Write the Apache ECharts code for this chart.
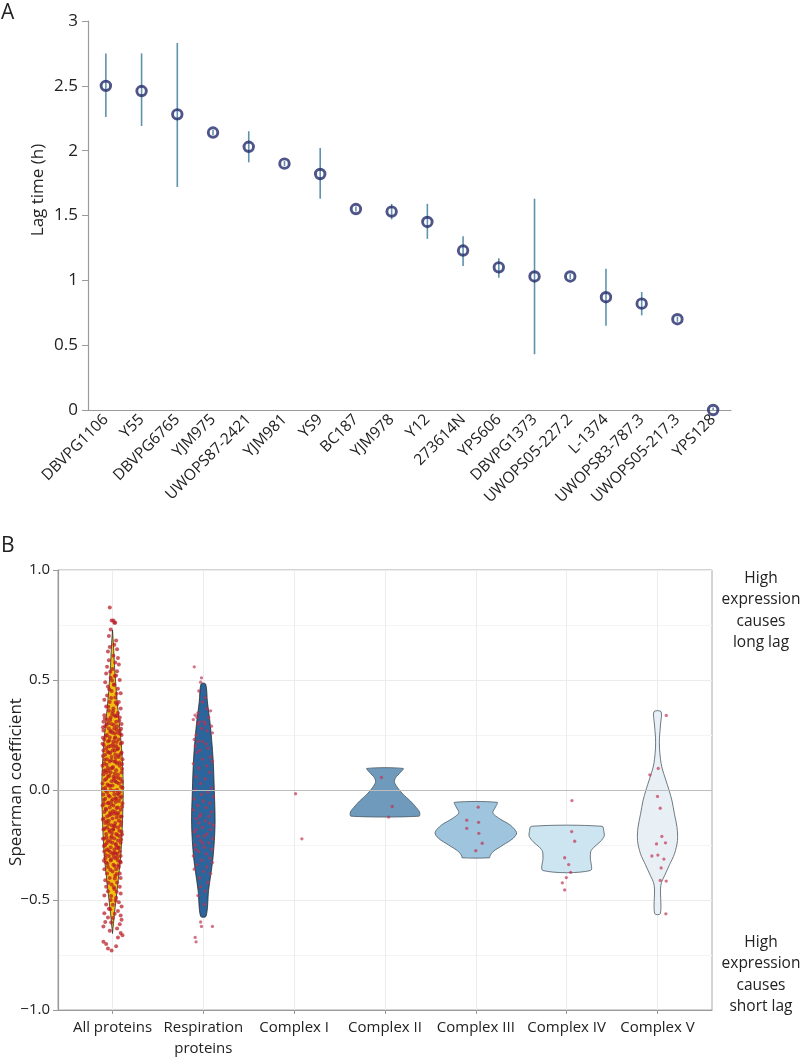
<!DOCTYPE html>
<html>
<head>
<meta charset="utf-8">
<script src="https://cdn.jsdelivr.net/npm/echarts@6/dist/echarts.min.js"></script>
<style>
  html, body { margin: 0; background: #fff; }
  #chart { width: 800px; height: 1059px; }
</style>
</head>
<body>
<div id="chart"></div>
<script>
// ---- panel A: lag time per strain ----
const strains = ["DBVPG1106", "Y55", "DBVPG6765", "YJM975", "UWOPS87-2421", "YJM981", "YS9", "BC187", "YJM978",
  "Y12", "273614N", "YPS606", "DBVPG1373", "UWOPS05-227.2", "L-1374", "UWOPS83-787.3", "UWOPS05-217.3", "YPS128"];
const lagTime = [2.50, 2.46, 2.28, 2.14, 2.03, 1.90, 1.82, 1.55, 1.53, 1.45, 1.23, 1.10, 1.03, 1.03, 0.87, 0.82, 0.70, 0.00];
const lagLow  = [2.26, 2.19, 1.72, 2.12, 1.91, 1.88, 1.63, 1.53, 1.47, 1.32, 1.11, 1.02, 0.43, 1.01, 0.65, 0.73, 0.68, 0.00];
const lagHigh = [2.75, 2.75, 2.83, 2.16, 2.15, 1.92, 2.02, 1.57, 1.59, 1.59, 1.34, 1.17, 1.63, 1.05, 1.09, 0.91, 0.72, 0.02];

// ---- panel B: spearman coefficients ----
const groups = ["All proteins", "Respiration\nproteins", "Complex I", "Complex II", "Complex III", "Complex IV", "Complex V"];

// violin outlines: [coefficient, half width]
const violinGroup = [0, 1, 3, 4, 5, 6];
const allProf = [[0.727, 0], [0.65, 0.012], [0.565, 0.022], [0.41, 0.05], [0.19, 0.1], [0.02, 0.118], [-0.14, 0.11],
  [-0.29, 0.092], [-0.44, 0.055], [-0.56, 0.022], [-0.652, 0]];
const respProf = [[0.482, 0.025], [0.40, 0.045], [0.294, 0.077], [0.144, 0.107], [-0.006, 0.121], [-0.156, 0.129],
  [-0.306, 0.107], [-0.456, 0.058], [-0.574, 0.03]];
const c2Prof = [[0.098, 0.2], [0.08, 0.17], [0.055, 0.115], [0.035, 0.105], [0.01, 0.14], [-0.02, 0.2], [-0.05, 0.28],
  [-0.08, 0.345], [-0.1, 0.38], [-0.119, 0.375]];
const c3Prof = [[-0.056, 0.235], [-0.075, 0.22], [-0.104, 0.187], [-0.13, 0.26], [-0.16, 0.38], [-0.194, 0.449],
  [-0.22, 0.41], [-0.25, 0.3], [-0.28, 0.19], [-0.3, 0.155], [-0.308, 0.152]];
const c4Prof = [[-0.165, 0.39], [-0.19, 0.41], [-0.21, 0.413], [-0.235, 0.37], [-0.26, 0.3], [-0.28, 0.265],
  [-0.31, 0.261], [-0.366, 0.261]];
const c5Prof = [[0.356, 0.039], [0.3, 0.034], [0.24, 0.022], [0.19, 0.022], [0.14, 0.033], [0.1, 0.05], [0.05, 0.088],
  [0.0, 0.127], [-0.05, 0.16], [-0.11, 0.187], [-0.17, 0.215], [-0.23, 0.22], [-0.29, 0.187], [-0.34, 0.132],
  [-0.39, 0.077], [-0.42, 0.044], [-0.45, 0.033], [-0.562, 0.031]];
const violinProfiles = [allProf, respProf, c2Prof, c3Prof, c4Prof, c5Prof];
const violinColors = ["#f2c10f", "#2c649c", "#6f9abb", "#9fc5de", "#cde4f1", "#e9f0f5"];

// points: [coefficient, jitter]
const allPts = [
  [0.83,-0.03],[0.77,-0.01],[0.77,0.01],[0.76,0.02],[0.76,0.03],[0.73,-0.02],[0.70,-0.04],[0.68,0.04],[0.66,0.02],[0.65,-0.03],
  [0.64,0.05],[0.63,-0.05],[0.61,0.01],[0.60,0.06],[0.59,-0.04],[0.58,0.03],[0.57,0.07],[0.56,-0.06],[0.55,0.00],[0.54,0.05],
  [0.53,-0.07],[0.52,0.04],[0.51,-0.02],[0.50,0.08],[0.49,-0.08],[0.48,0.02],[0.47,-0.05],[0.46,0.06],[0.45,-0.01],[0.44,0.09],
  [0.43,-0.06],[0.42,0.03],[0.41,-0.09],[0.40,0.07],[0.40,-0.03],[0.39,0.05],[0.38,-0.07],[0.37,0.01],[0.37,0.09],[0.36,-0.04],
  [0.35,0.06],[0.34,-0.09],[0.34,0.02],[0.33,-0.02],[0.33,0.08],[0.32,-0.06],[0.31,0.04],[0.31,-0.10],[0.30,0.10],[0.30,-0.01],
  [0.29,0.05],[0.29,-0.08],[0.28,0.02],[0.28,-0.04],[0.27,0.08],[0.27,-0.10],[0.26,0.00],[0.26,0.06],[0.25,-0.06],[0.25,0.10],
  [0.24,0.03],[0.24,-0.03],[0.23,-0.09],[0.23,0.07],[0.22,0.01],[0.22,-0.05],[0.21,0.09],[0.21,-0.11],[0.20,0.04],[0.20,-0.02],
  [0.19,-0.07],[0.19,0.06],[0.18,0.00],[0.18,-0.10],[0.17,0.10],[0.17,-0.04],[0.16,0.03],[0.16,-0.08],[0.15,0.07],[0.15,-0.01],
  [0.14,-0.06],[0.14,0.11],[0.13,0.02],[0.13,-0.03],[0.12,-0.09],[0.12,0.05],[0.11,0.08],[0.11,-0.11],[0.10,0.00],[0.10,-0.05],
  [0.09,0.04],[0.09,-0.08],[0.08,0.10],[0.08,-0.02],[0.07,0.06],[0.07,-0.10],[0.06,0.01],[0.06,-0.05],[0.05,0.09],[0.05,-0.07],
  [0.04,0.03],[0.04,-0.01],[0.03,-0.11],[0.03,0.07],[0.02,0.00],[0.02,-0.04],[0.01,0.11],[0.01,-0.08],[0.00,0.05],[0.00,-0.02],
  [-0.01,-0.06],[-0.01,0.08],[-0.02,0.02],[-0.02,-0.10],[-0.03,0.10],[-0.03,-0.03],[-0.04,0.04],[-0.04,-0.08],[-0.05,0.07],[-0.05,-0.01],
  [-0.06,-0.05],[-0.06,0.11],[-0.07,0.01],[-0.07,-0.11],[-0.08,0.06],[-0.08,-0.03],[-0.09,-0.07],[-0.09,0.09],[-0.10,0.03],[-0.10,-0.09],
  [-0.11,0.05],[-0.11,-0.02],[-0.12,0.10],[-0.12,-0.06],[-0.13,0.00],[-0.13,-0.10],[-0.14,0.07],[-0.14,-0.04],[-0.15,0.03],[-0.15,-0.08],
  [-0.16,0.09],[-0.16,-0.01],[-0.17,-0.06],[-0.17,0.06],[-0.18,0.01],[-0.18,-0.10],[-0.19,0.10],[-0.19,-0.03],[-0.20,0.04],[-0.20,-0.07],
  [-0.21,0.08],[-0.21,-0.01],[-0.22,-0.09],[-0.22,0.02],[-0.23,0.06],[-0.23,-0.05],[-0.24,0.09],[-0.24,0.00],[-0.25,-0.08],[-0.25,0.04],
  [-0.26,-0.02],[-0.26,0.07],[-0.27,-0.06],[-0.27,0.02],[-0.28,0.08],[-0.28,-0.09],[-0.29,0.00],[-0.29,0.05],[-0.30,-0.04],[-0.30,0.09],
  [-0.31,-0.08],[-0.31,0.03],[-0.32,0.06],[-0.32,-0.02],[-0.33,-0.07],[-0.33,0.09],[-0.34,0.01],[-0.35,-0.05],[-0.35,0.07],[-0.36,-0.09],
  [-0.36,0.04],[-0.37,0.00],[-0.38,0.08],[-0.38,-0.06],[-0.39,0.03],[-0.40,-0.03],[-0.40,0.09],[-0.41,-0.08],[-0.42,0.05],[-0.43,-0.01],
  [-0.44,0.08],[-0.44,-0.07],[-0.45,0.02],[-0.46,-0.05],[-0.47,0.09],[-0.48,-0.09],[-0.49,0.04],[-0.50,-0.02],[-0.51,0.07],[-0.52,-0.07],
  [-0.53,0.10],[-0.54,-0.04],[-0.55,0.06],[-0.56,-0.09],[-0.57,0.09],[-0.58,-0.05],[-0.59,0.10],[-0.60,-0.08],[-0.61,0.08],[-0.62,-0.10],
  [-0.63,0.05],[-0.64,-0.03],[-0.65,0.09],[-0.66,0.11],[-0.67,0.06],[-0.69,-0.10],[-0.70,-0.07],[-0.71,0.04],[-0.72,-0.05],[-0.73,-0.01],
  [0.345,-0.005],[0.335,0.035],[0.325,-0.085],[0.315,0.075],[0.305,-0.045],[0.295,0.015],[0.285,-0.105],[0.275,0.045],[0.265,-0.025],[0.255,0.085],
  [0.245,-0.075],[0.235,0.025],[0.225,-0.035],[0.215,0.105],[0.205,-0.095],[0.195,0.015],[0.185,0.055],[0.175,-0.055],[0.165,0.095],[0.155,-0.105],
  [0.145,0.035],[0.135,-0.015],[0.125,0.075],[0.115,-0.065],[0.105,0.005],[0.095,0.105],[0.085,-0.095],[0.075,0.025],[0.065,-0.035],[0.055,0.065],
  [0.045,-0.085],[0.035,0.045],[0.025,-0.055],[0.015,0.095],[0.005,-0.105],[-0.005,0.015],[-0.015,0.055],[-0.025,-0.045],[-0.035,0.085],[-0.045,-0.095],
  [-0.055,0.035],[-0.065,-0.015],[-0.075,0.105],[-0.085,-0.075],[-0.095,0.005],[-0.105,0.065],[-0.115,-0.035],[-0.125,0.045],[-0.135,-0.105],[-0.145,0.095],
  [-0.155,-0.045],[-0.165,0.025],[-0.175,-0.085],[-0.185,0.075],[-0.195,-0.005],[-0.205,0.055],[-0.215,-0.065],[-0.225,0.095],[-0.235,-0.025],[-0.245,0.035],
  [-0.255,-0.095],[-0.265,0.065],[-0.275,-0.045],[-0.285,0.015],[-0.295,-0.075],[-0.305,0.055],[-0.315,-0.015],[-0.325,0.085],[-0.335,-0.055],[-0.345,0.025],
  [0.338,0.055],[0.318,-0.025],[0.298,-0.065],[0.278,0.095],[0.258,0.025],[0.238,-0.105],[0.218,0.045],[0.198,-0.045],[0.178,0.025],[0.158,0.065],
  [0.138,-0.085],[0.118,0.105],[0.098,-0.015],[0.078,-0.065],[0.058,0.035],[0.038,0.105],[0.018,-0.025],[-0.002,-0.075],[-0.022,0.065],[-0.042,0.005],
  [-0.062,-0.095],[-0.082,0.045],[-0.102,-0.025],[-0.122,0.085],[-0.142,-0.065],[-0.162,0.015],[-0.182,-0.035],[-0.202,0.105],[-0.222,-0.105],[-0.242,-0.065],
  [-0.262,0.045],[-0.282,-0.025],[-0.302,0.015],[-0.322,-0.095],[-0.342,0.065],[-0.362,-0.025],[-0.382,0.045],[-0.402,0.025],[-0.422,-0.045],[-0.442,0.015],
  [0.358,0.005],[0.378,-0.045],[0.398,0.035],[0.418,-0.015],[0.438,0.045],[0.458,-0.035],[0.478,0.015],[0.498,-0.005],[0.518,0.025],[0.538,-0.025],
  [-0.462,0.045],[-0.482,-0.015],[-0.502,0.035],[-0.522,0.005],[-0.542,-0.025],[-0.562,0.025],[-0.582,0.005],[-0.602,-0.015],[0.048,0.015],[-0.108,0.015],
  [-0.178,0.005],[0.208,0.005],[0.128,0.035],[-0.038,0.035],[-0.288,0.035],[0.088,-0.045],[-0.058,-0.045],[-0.218,-0.015],[0.268,-0.015],[0.168,-0.025]
];
const respPts = [
  [0.56,-0.10],[0.51,-0.02],[0.49,-0.03],[0.45,-0.05],[0.42,0.02],[0.40,-0.01],[0.37,0.04],[0.36,0.08],[0.35,-0.06],[0.34,-0.09],
  [0.33,-0.07],[0.33,0.06],[0.32,-0.11],[0.31,-0.04],[0.31,0.01],[0.30,-0.06],[0.30,0.02],[0.29,0.09],[0.28,-0.02],[0.27,0.04],
  [0.26,0.10],[0.25,-0.08],[0.23,-0.10],[0.22,-0.06],[0.22,-0.01],[0.21,0.03],[0.20,-0.09],[0.19,0.05],[0.18,-0.04],[0.17,-0.07],
  [0.15,0.08],[0.14,-0.01],[0.13,0.10],[0.12,-0.11],[0.11,0.04],[0.10,-0.05],[0.08,0.07],[0.06,-0.08],[0.05,0.02],[0.03,-0.03],
  [0.01,0.09],[0.00,-0.09],[-0.01,0.05],[-0.02,-0.02],[-0.03,0.11],[-0.04,-0.10],[-0.05,0.00],[-0.06,0.07],[-0.07,-0.06],[-0.08,0.03],
  [-0.09,-0.11],[-0.10,0.09],[-0.11,-0.03],[-0.12,0.06],[-0.12,-0.04],[-0.13,-0.08],[-0.14,0.02],[-0.15,-0.05],[-0.15,0.07],[-0.16,0.11],
  [-0.17,-0.01],[-0.18,0.08],[-0.18,-0.08],[-0.19,-0.10],[-0.20,0.04],[-0.21,-0.06],[-0.21,0.01],[-0.22,0.10],[-0.23,-0.03],[-0.24,0.06],
  [-0.24,-0.01],[-0.25,-0.09],[-0.26,0.01],[-0.27,0.09],[-0.27,-0.08],[-0.28,-0.05],[-0.29,0.03],[-0.30,-0.11],[-0.31,0.07],[-0.32,-0.02],
  [-0.33,0.10],[-0.34,-0.07],[-0.35,0.04],[-0.36,-0.10],[-0.37,0.00],[-0.38,0.08],[-0.40,-0.04],[-0.42,0.05],[-0.44,-0.03],[-0.46,0.02],
  [-0.48,-0.06],[-0.52,0.01],[-0.60,-0.03],[-0.62,-0.02],[-0.62,0.10],[-0.67,-0.09],[-0.69,-0.08]
];
const c1Pts = [[-0.017, 0.015], [-0.222, 0.085]];
const c2Pts = [[0.057, -0.04], [-0.075, 0.08], [-0.123, 0.04]];
const c3Pts = [[-0.078, 0.026], [-0.137, -0.1], [-0.147, 0.03], [-0.174, -0.1], [-0.197, 0.033], [-0.242, 0.07], [-0.276, 0]];
const c4Pts = [[-0.048, 0.058], [-0.189, 0.055], [-0.233, 0.088], [-0.308, -0.022], [-0.339, 0.022], [-0.374, 0.044],
  [-0.398, -0.004], [-0.422, -0.048], [-0.454, -0.022]];
const c5Pts = [[0.339, 0.096], [0.098, 0.008], [0.069, -0.084], [-0.029, 0], [-0.083, 0.03], [-0.211, 0.048], [-0.245, -0.011],
  [-0.240, 0.088], [-0.300, -0.062], [-0.296, 0.004], [-0.314, 0.07], [-0.354, 0.04], [-0.411, 0.03], [-0.414, 0.096],
  [-0.563, 0.092]];
const groupPts = [allPts, respPts, c1Pts, c2Pts, c3Pts, c4Pts, c5Pts];

const font = "'Open Sans', 'Noto Sans', sans-serif";
const chart = echarts.init(document.getElementById("chart"));

// put jittered points at their group position
function placePts(pts, g) {
  return pts.map(p => [g + p[1], p[0]]);
}

function renderViolin(params, api) {
  const g = violinGroup[params.dataIndex];
  const prof = violinProfiles[params.dataIndex];
  const left = prof.map(p => api.coord([g - p[1], p[0]]));
  const right = prof.slice().reverse().map(p => api.coord([g + p[1], p[0]]));
  return {
    type: "polygon",
    shape: { points: left.concat(right), smooth: 0.3 },
    style: {
      fill: violinColors[params.dataIndex],
      stroke: params.dataIndex < 2 ? "#2b2b2b" : "#4b5a66",
      lineWidth: 0.8
    }
  };
}

function renderErrBar(params, api) {
  const top = api.coord([api.value(0), api.value(2)]);
  const bot = api.coord([api.value(0), api.value(1)]);
  return {
    type: "line",
    shape: { x1: top[0], y1: top[1], x2: bot[0], y2: bot[1] },
    style: { stroke: "#5f93ad", lineWidth: 1.6 }
  };
}

const ptColor = "rgba(192, 50, 80, 0.85)";
const axisGray = "#9a9a9a";

chart.setOption({
  backgroundColor: "#fff",
  textStyle: { fontFamily: font },
  animation: false,
  grid: [
    { left: 88, right: 69, top: 21, bottom: 649 },
    { left: 58, right: 88, top: 570, bottom: 45, show: true, borderColor: "#a8a8a8", borderWidth: 1 }
  ],
  xAxis: [
    {
      gridIndex: 0,
      type: "category",
      data: strains,
      axisLine: { onZero: false, lineStyle: { color: axisGray, width: 1.2 } },
      axisTick: { lineStyle: { color: axisGray }, length: 5 },
      axisLabel: { rotate: 45, fontSize: 15.5, color: "#222", margin: 7, interval: 0, fontFamily: font }
    },
    {
      gridIndex: 1,
      type: "value",
      min: -0.6,
      max: 6.6,
      axisLine: { onZero: false, lineStyle: { color: axisGray, width: 1.2 } },
      axisTick: { customValues: [0, 1, 2, 3, 4, 5, 6], lineStyle: { color: axisGray }, length: 4 },
      axisLabel: {
        customValues: [0, 1, 2, 3, 4, 5, 6],
        formatter: v => groups[Math.round(v)],
        fontSize: 15, color: "#222", margin: 7, lineHeight: 21, fontFamily: font
      },
      splitLine: { show: true, lineStyle: { color: "#ececec" } }
    }
  ],
  yAxis: [
    {
      gridIndex: 0,
      type: "value",
      min: 0,
      max: 3,
      interval: 0.5,
      axisLine: { show: true, onZero: false, lineStyle: { color: axisGray, width: 1.2 } },
      axisTick: { show: true, length: 6, lineStyle: { color: axisGray } },
      axisLabel: { fontSize: 17, color: "#222", margin: 10, fontFamily: font },
      splitLine: { show: false }
    },
    {
      gridIndex: 1,
      type: "value",
      min: -1,
      max: 1,
      interval: 0.5,
      axisLine: { show: true, onZero: false, lineStyle: { color: axisGray, width: 1.2 } },
      axisTick: { show: true, length: 5, lineStyle: { color: axisGray } },
      axisLabel: {
        fontSize: 15, color: "#222", margin: 8, fontFamily: font,
        formatter: v => v.toFixed(1).replace("-", "\u2212")
      },
      splitLine: { show: true, lineStyle: { color: "#ececec" } },
      minorTick: { show: false, splitNumber: 2 },
      minorSplitLine: { show: true, lineStyle: { color: "#f4f4f4" } }
    }
  ],
  graphic: [
    { type: "text", left: 1, top: 3, style: { text: "A", fontSize: 21, fill: "#222", fontFamily: font } },
    { type: "text", left: 1, top: 536, style: { text: "B", fontSize: 21, fill: "#222", fontFamily: font } },
    {
      type: "text", x: 38, y: 190, rotation: Math.PI / 2,
      style: { text: "Lag time (h)", fontSize: 17, fill: "#222", fontFamily: font, align: "center", verticalAlign: "middle" }
    },
    {
      type: "text", x: 16, y: 782, rotation: Math.PI / 2,
      style: { text: "Spearman coefficient", fontSize: 17, fill: "#222", fontFamily: font, align: "center", verticalAlign: "middle" }
    },
    {
      type: "text", x: 761, y: 568,
      style: { text: "High\nexpression\ncauses\nlong lag", fontSize: 15.5, lineHeight: 21.3, fill: "#222", fontFamily: font, align: "center" }
    },
    {
      type: "text", x: 761, y: 932,
      style: { text: "High\nexpression\ncauses\nshort lag", fontSize: 15.5, lineHeight: 21.3, fill: "#222", fontFamily: font, align: "center" }
    }
  ],
  series: [
    {
      type: "custom",
      xAxisIndex: 0,
      yAxisIndex: 0,
      renderItem: renderErrBar,
      data: strains.map((s, i) => [i, lagLow[i], lagHigh[i]]),
      z: 2
    },
    {
      type: "scatter",
      xAxisIndex: 0,
      yAxisIndex: 0,
      data: lagTime,
      symbol: "circle",
      symbolSize: 9.5,
      itemStyle: { color: "rgba(255,255,255,0)", borderColor: "#232a6c", borderWidth: 2.9 },
      z: 3
    },
    {
      type: "custom",
      xAxisIndex: 1,
      yAxisIndex: 1,
      renderItem: renderViolin,
      data: violinGroup.map(g => [g, 0]),
      markLine: {
        silent: true,
        symbol: "none",
        label: { show: false },
        lineStyle: { color: "#bdbdbd", type: "solid", width: 1 },
        data: [{ yAxis: 0 }]
      },
      z: 2
    },
    {
      type: "scatter",
      xAxisIndex: 1,
      yAxisIndex: 1,
      data: placePts(allPts, 0),
      symbolSize: 4,
      itemStyle: { color: "rgba(185, 26, 36, 0.9)" },
      z: 3
    },
    {
      type: "scatter",
      xAxisIndex: 1,
      yAxisIndex: 1,
      data: groupPts.slice(1).flatMap((pts, i) => placePts(pts, i + 1)),
      symbolSize: 3.3,
      itemStyle: { color: ptColor },
      z: 3
    }
  ]
});
</script>
</body>
</html>
